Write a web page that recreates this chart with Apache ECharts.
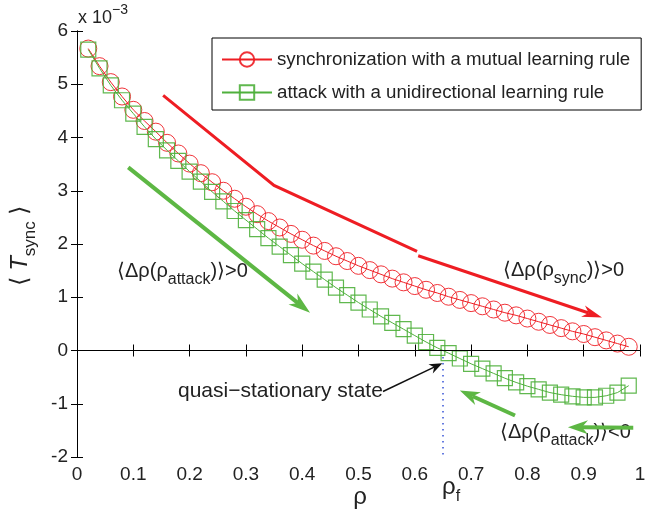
<!DOCTYPE html>
<html>
<head>
<meta charset="utf-8">
<script src="https://cdn.jsdelivr.net/npm/echarts@6/dist/echarts.min.js"></script>
<style>
  html, body { margin: 0; padding: 0; background: #fff; }
  #main { width: 645px; height: 517px; }
</style>
</head>
<body>
<div id="main"></div>
<script>
// rho values (x), T_sync in units of 1e-3
var rho = [0.02, 0.04, 0.06, 0.08, 0.10, 0.12, 0.14, 0.16, 0.18, 0.20,
           0.22, 0.24, 0.26, 0.28, 0.30, 0.32, 0.34, 0.36, 0.38, 0.40,
           0.42, 0.44, 0.46, 0.48, 0.50, 0.52, 0.54, 0.56, 0.58, 0.60,
           0.62, 0.64, 0.66, 0.68, 0.70, 0.72, 0.74, 0.76, 0.78, 0.80,
           0.82, 0.84, 0.86, 0.88, 0.90, 0.92, 0.94, 0.96, 0.98];
var syncT = [5.67, 5.34, 5.04, 4.77, 4.52, 4.31, 4.11, 3.90, 3.70, 3.51,
             3.33, 3.16, 3.00, 2.85, 2.70, 2.56, 2.43, 2.31, 2.19, 2.08,
             1.97, 1.87, 1.77, 1.68, 1.59, 1.51, 1.43, 1.35, 1.28, 1.21,
             1.14, 1.08, 1.01, 0.95, 0.89, 0.83, 0.77, 0.71, 0.66, 0.60,
             0.54, 0.48, 0.42, 0.36, 0.31, 0.25, 0.19, 0.13, 0.07];
var attackT = [5.65, 5.30, 4.98, 4.70, 4.45, 4.20, 3.97, 3.76, 3.56, 3.36,
               3.17, 2.98, 2.80, 2.62, 2.45, 2.28, 2.11, 1.95, 1.79, 1.63,
               1.48, 1.33, 1.18, 1.04, 0.90, 0.77, 0.64, 0.52, 0.40, 0.28,
               0.16, 0.05, -0.05, -0.15, -0.25, -0.34, -0.43, -0.52, -0.60, -0.67,
               -0.73, -0.79, -0.83, -0.86, -0.88, -0.88, -0.85, -0.79, -0.66];
var rhoF = 0.65;

var syncName = 'synchronization with a mutual learning rule';
var attackName = 'attack with a unidirectional learning rule';

var FONT = '"Liberation Sans", Arial, Helvetica, sans-serif';
var RED = '#ee1d23';
var GREEN = '#4fb03c';
var ARROW_GREEN = '#5db744';

function pairs(xs, ys) {
  var out = [];
  for (var i = 0; i < xs.length; i++) out.push([xs[i], ys[i]]);
  return out;
}

var dom = document.getElementById('main');
var myChart = echarts.init(dom, null, { renderer: 'canvas' });

option = {
  animation: false,
  grid: { left: 77, right: 5, top: 31, bottom: 60, containLabel: false, outerBoundsMode: 'none' },
  legend: {
    orient: 'vertical',
    left: 212,
    top: 38,
    padding: [12, 11, 8, 9],
    itemGap: 14,
    itemWidth: 50,
    itemHeight: 18,
    borderColor: '#000',
    borderWidth: 1,
    backgroundColor: '#fff',
    textStyle: { fontFamily: FONT, fontSize: 18.7, color: '#222', padding: [0, 0, 0, 0] },
    data: [syncName, attackName]
  },
  xAxis: [{
    type: 'value', min: 0, max: 1, interval: 0.1,
    axisLine: { lineStyle: { color: '#000', width: 1 } },
    axisTick: { inside: true, length: 6, lineStyle: { color: '#000' } },
    axisLabel: { fontFamily: FONT, fontSize: 19, color: '#222', margin: 8 },
    splitLine: { show: false }
  }, {
    type: 'value', min: 0, max: 1, interval: 0.1, position: 'top',
    axisLine: { lineStyle: { color: '#000', width: 1 } },
    axisTick: { inside: true, length: 6, lineStyle: { color: '#000' } },
    axisLabel: { show: false },
    splitLine: { show: false }
  }],
  yAxis: [{
    type: 'value', min: -2, max: 6, interval: 1,
    axisLine: { show: true, lineStyle: { color: '#000', width: 1 } },
    axisTick: { show: true, inside: true, length: 6, lineStyle: { color: '#000' } },
    axisLabel: { fontFamily: FONT, fontSize: 19, color: '#222', margin: 9 },
    splitLine: { show: false }
  }, {
    type: 'value', min: -2, max: 6, interval: 1, position: 'right',
    axisLine: { show: true, lineStyle: { color: '#000', width: 1 } },
    axisTick: { show: true, inside: true, length: 6, lineStyle: { color: '#000' } },
    axisLabel: { show: false },
    splitLine: { show: false }
  }],
  series: [{
    name: syncName,
    type: 'line',
    data: pairs(rho, syncT),
    symbol: 'circle',
    symbolSize: 17,
    lineStyle: { color: RED, width: 1 },
    itemStyle: { color: 'rgba(0,0,0,0)', borderColor: RED, borderWidth: 1, opacity: 0.9 },
    z: 3,
    markLine: {
      silent: true, symbol: 'none', label: { show: false },
      lineStyle: { color: '#000', width: 1, type: 'solid' },
      data: [{ yAxis: 0 }]
    }
  }, {
    name: attackName,
    type: 'line',
    data: pairs(rho, attackT),
    symbol: 'rect',
    symbolSize: 15,
    lineStyle: { color: GREEN, width: 1 },
    itemStyle: { color: 'rgba(0,0,0,0)', borderColor: GREEN, borderWidth: 1.2, opacity: 0.9 },
    z: 4,
    markLine: {
      silent: true, symbol: 'none', label: { show: false },
      lineStyle: { color: '#3552d6', width: 1.5, type: [1.5, 4.5] },
      data: [[{ coord: [rhoF, -0.12] }, { coord: [rhoF, -2] }]]
    }
  }]
};

myChart.setOption(option, true);

// ---- annotations ----
var ctx = document.createElement('canvas').getContext('2d');
function textW(t, size, style) {
  ctx.font = (style || '') + ' ' + size + 'px ' + FONT;
  return ctx.measureText(t).width;
}
// parts: [text, size, dy, fontStyle]
function textRun(x, y, parts, color, centered) {
  var total = 0, i;
  for (i = 0; i < parts.length; i++) total += textW(parts[i][0], parts[i][1], parts[i][3]);
  var cx = centered ? x - total / 2 : x;
  var els = [];
  for (i = 0; i < parts.length; i++) {
    var p = parts[i];
    els.push({
      type: 'text', x: cx, y: y + (p[2] || 0), silent: true,
      style: {
        text: p[0], fill: color || '#222', font: (p[3] || '') + ' ' + p[1] + 'px ' + FONT,
        textAlign: 'left', textVerticalAlign: 'middle'
      }
    });
    cx += textW(p[0], p[1], p[3]);
  }
  return els;
}

function px(pt) { return myChart.convertToPixel({ gridIndex: 0 }, pt); }

function arrow(a, b, color, width, hl, hw) {
  var p0 = px(a), p1 = px(b);
  var dx = p1[0] - p0[0], dy = p1[1] - p0[1];
  var L = Math.sqrt(dx * dx + dy * dy), ux = dx / L, uy = dy / L, nx = -uy, ny = ux;
  var bx = p1[0] - ux * hl, by = p1[1] - uy * hl;
  var mx = p1[0] - ux * hl * 0.7, my = p1[1] - uy * hl * 0.7;
  return [{
    type: 'line', silent: true,
    shape: { x1: p0[0], y1: p0[1], x2: mx, y2: my },
    style: { stroke: color, lineWidth: width }
  }, {
    type: 'polygon', silent: true,
    shape: { points: [[p1[0], p1[1]], [bx + nx * hw, by + ny * hw], [mx, my], [bx - nx * hw, by - ny * hw]] },
    style: { fill: color }
  }];
}

var redBend = [[0.153, 4.79], [0.350, 3.10], [0.604, 1.86]];
var redArrow = [[0.606, 1.78], [0.9325, 0.62]];
var greenArrow1 = [[0.091, 3.44], [0.414, 0.71]];
var greenArrow2 = [[0.778, -1.22], [0.680, -0.75]];
var greenArrow3 = [[0.988, -1.45], [0.872, -1.44]];
var blackArrow = [[0.5435, -0.77], [0.649, -0.24]];

var g = [];
g.push({
  type: 'polyline', silent: true,
  shape: { points: redBend.map(px) },
  style: { stroke: RED, lineWidth: 3, fill: null }
});
g = g.concat(arrow(redArrow[0], redArrow[1], RED, 3, 20, 6));
g = g.concat(arrow(greenArrow1[0], greenArrow1[1], ARROW_GREEN, 4, 22, 7));
g = g.concat(arrow(greenArrow2[0], greenArrow2[1], ARROW_GREEN, 4, 20, 7));
g = g.concat(arrow(blackArrow[0], blackArrow[1], '#111', 1.5, 13, 5));

// texts
g = g.concat(textRun(117, 271, [['\u27E8\u0394\u03C1(\u03C1', 20], ['attack', 16, 9], [')\u27E9>0', 20]]));
g = g.concat(textRun(503, 270, [['\u27E8\u0394\u03C1(\u03C1', 20], ['sync', 16, 9], [')\u27E9>0', 20]]));
g = g.concat(textRun(500, 432, [['\u27E8\u0394\u03C1(\u03C1', 20], ['attack', 16, 9], [')\u27E9<0', 20]]));
g = g.concat(arrow(greenArrow3[0], greenArrow3[1], ARROW_GREEN, 4, 20, 7));
g = g.concat(textRun(178, 391, [['quasi\u2212stationary state', 21]]));

// x 10^-3
g = g.concat(textRun(78, 18, [['x 10', 18], ['\u22123', 14, -8]]));

// axis names
g = g.concat(textRun(360, 497, [['\u03C1', 24]], '#222', true));
g = g.concat(textRun(442, 487, [['\u03C1', 24], ['f', 16, 10]]));
g.push({
  type: 'group', x: 20, y: 246, rotation: Math.PI / 2, silent: true,
  children: textRun(0, 0, [['\u27E8 ', 24], ['T', 24, 0, 'italic'], ['sync', 17, 10], [' \u27E9', 24]], '#222', true)
});

myChart.setOption({ graphic: { elements: g } });
</script>
</body>
</html>
